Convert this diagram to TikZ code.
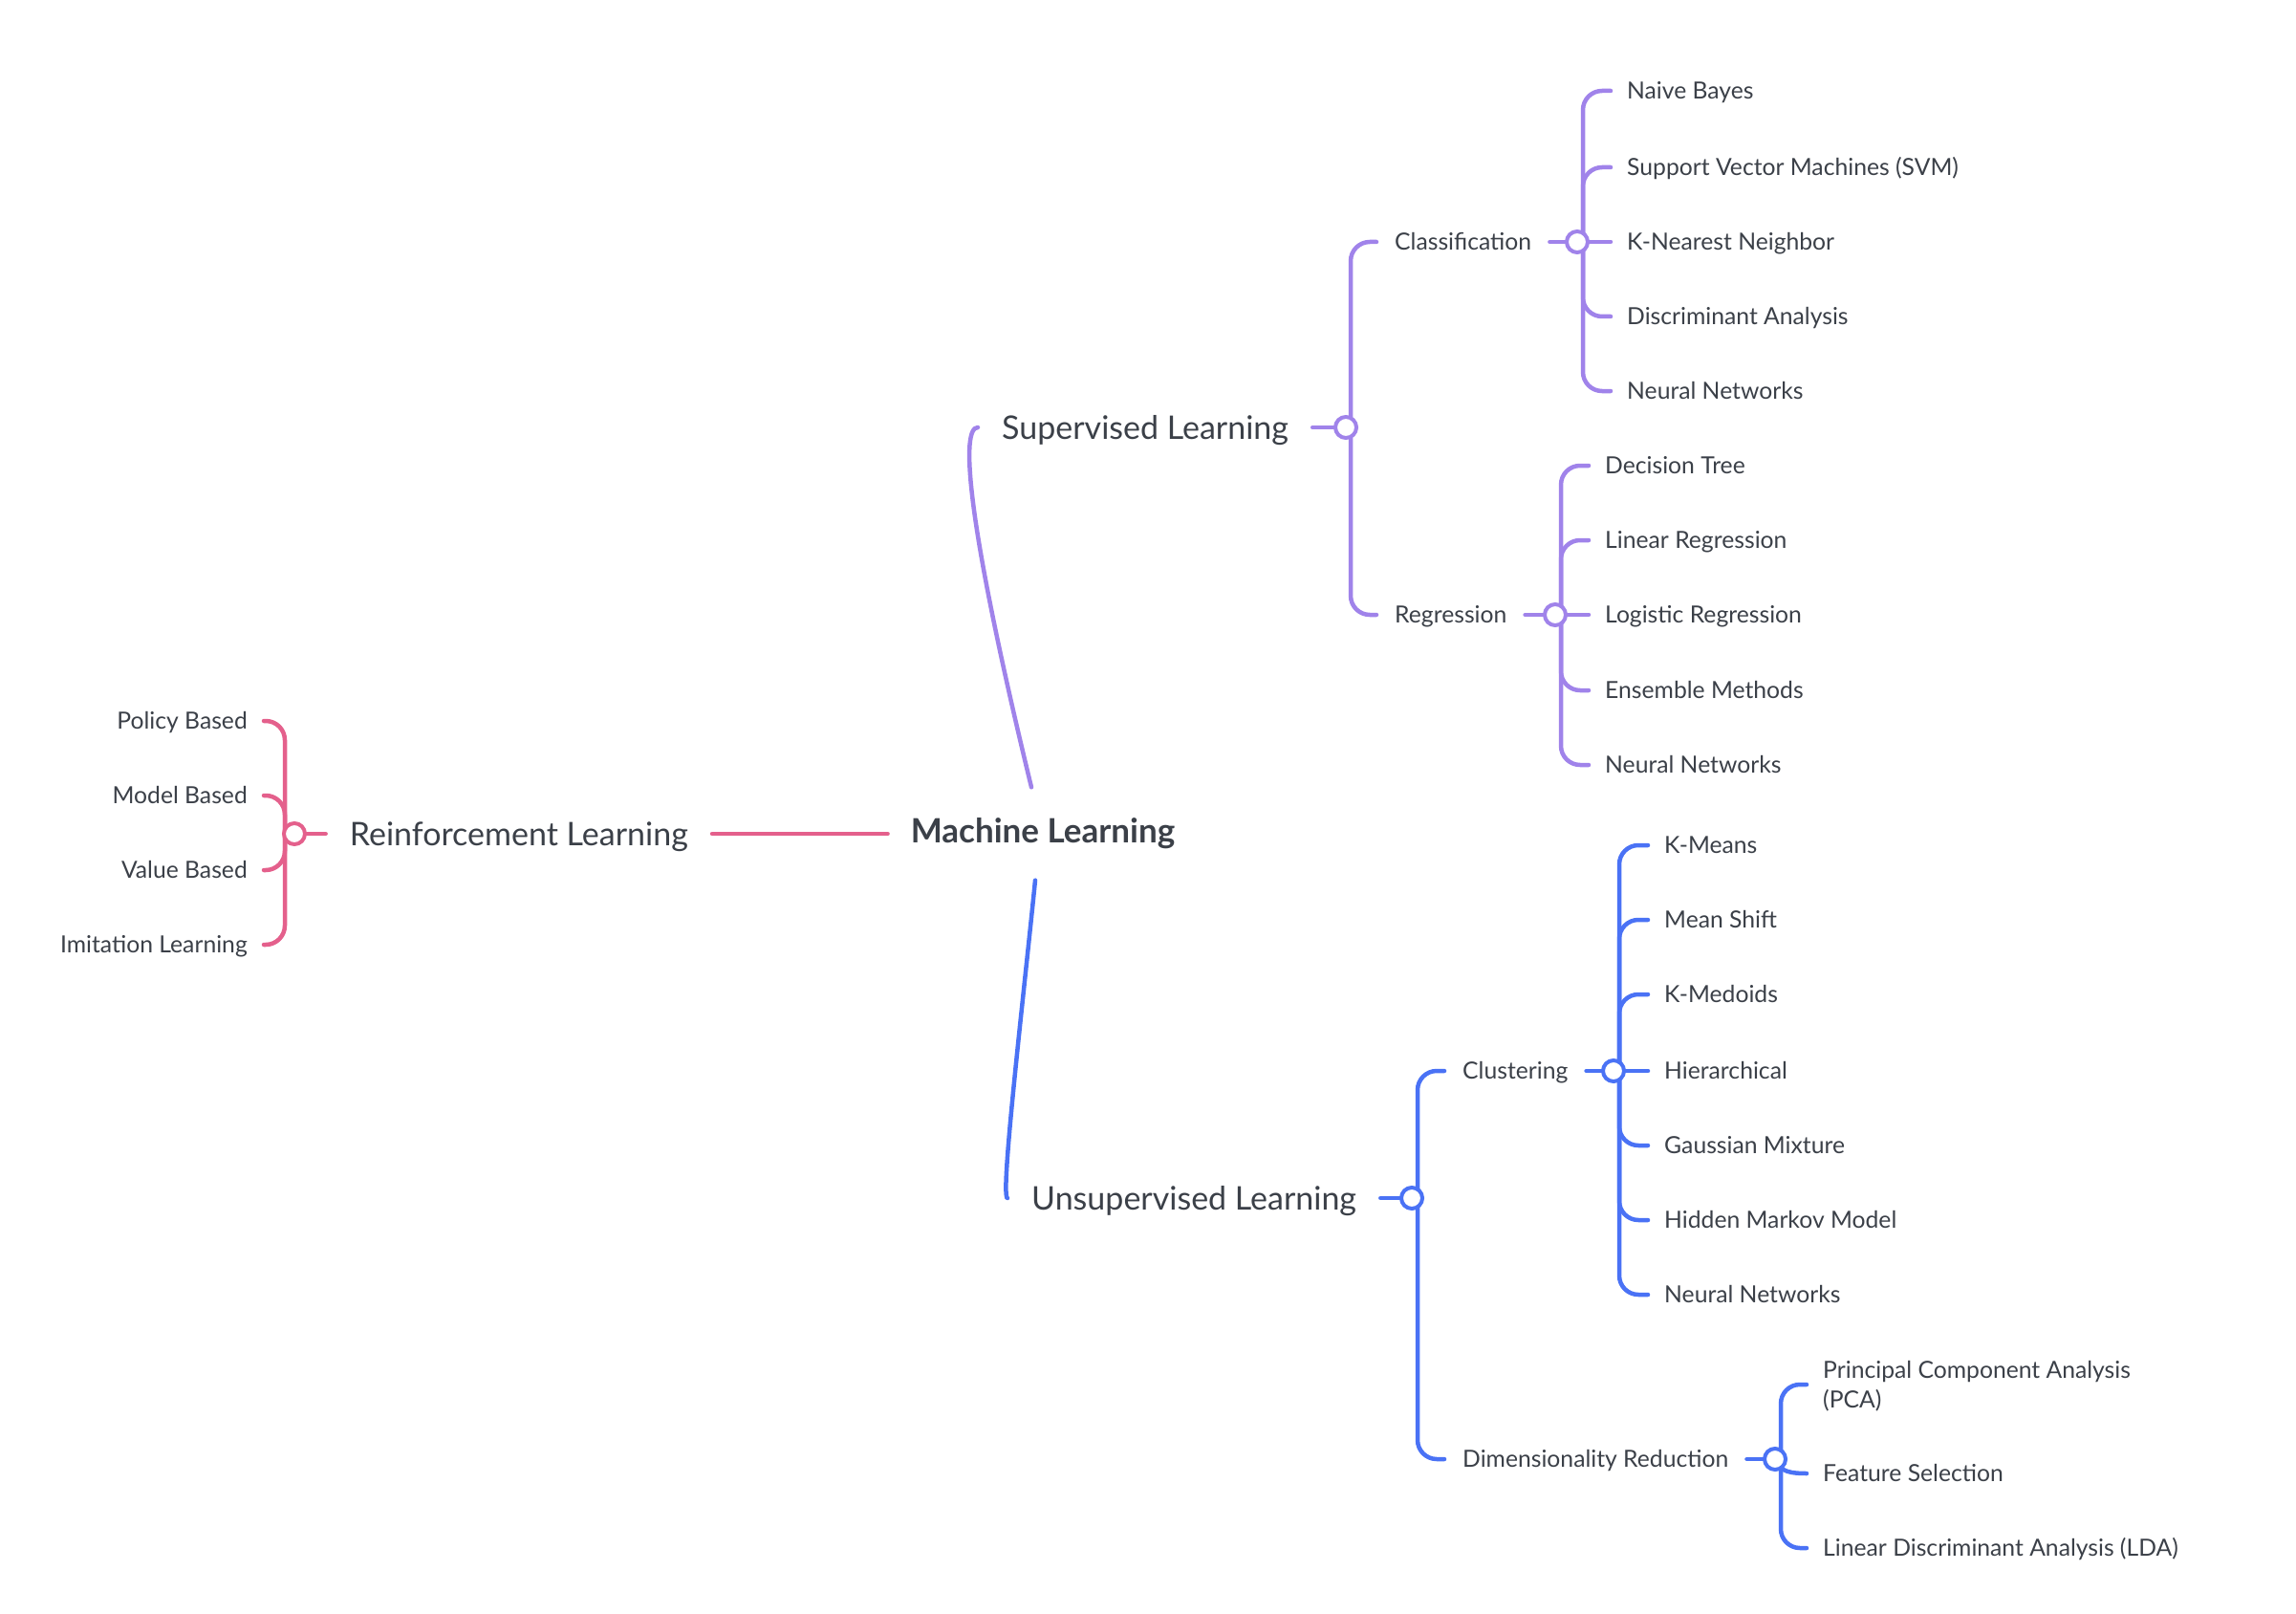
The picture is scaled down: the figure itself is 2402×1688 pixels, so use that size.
\documentclass[tikz,border=0pt]{standalone}
\usepackage{fontspec}
\setmainfont{Lato}
\usepackage{tikz}
\usetikzlibrary{backgrounds}
\usetikzlibrary{positioning}

\definecolor{suppurple}{HTML}{A083EA}
\definecolor{unsblue}{HTML}{4A72F5}
\definecolor{rlpink}{HTML}{E4608C}
\definecolor{inkgray}{HTML}{3B4048}

\tikzset{
  rootnode/.style={font=\fontsize{35}{42}\selectfont\bfseries, text=inkgray, inner xsep=24pt, minimum height=97pt},
  topic/.style={font=\fontsize{34}{41}\selectfont, text=inkgray, inner xsep=25pt, inner ysep=0pt, text height=24.4pt, text depth=0pt},
  subtopic/.style={font=\fontsize{24.7}{31}\selectfont, text=inkgray, inner xsep=19pt, inner ysep=0pt, text height=17.7pt, text depth=0pt},
  leaf/.style={subtopic, inner xsep=17pt},
  knot/.style={circle, draw, fill=white, line width=4pt, minimum size=22pt, inner sep=0pt},
  branch/.style={line width=4.5pt, line cap=round, rounded corners=20pt},
}

\begin{document}
\begin{tikzpicture}[x=1pt, y=-1pt]
\useasboundingbox (0,0) rectangle (2402,1688);

\node[rootnode] (ml) at (1091,872) {Machine Learning};

% reinforcement learning
\node[topic, anchor=east] (rl) at (745,872) {Reinforcement Learning};
\node[knot, draw=rlpink] (rlk) at (308,872) {};
\node[leaf, anchor=east] (pol) at (276,754) {Policy Based};
\node[leaf, anchor=east] (mod) at (276,832) {Model Based};
\node[leaf, anchor=east] (val) at (276,910) {Value Based};
\node[leaf, anchor=east] (imi) at (276,988) {Imitation Learning};

% supervised learning
\node[topic, anchor=west] (sup) at (1023,447) {Supervised Learning};
\node[knot, draw=suppurple] (supk) at (1408,447) {};
\node[subtopic, anchor=west] (cla) at (1440,253) {Classification};
\node[subtopic, anchor=west] (reg) at (1440,643) {Regression};
\node[knot, draw=suppurple] (clak) at (1650,253) {};
\node[leaf, anchor=west] (nb) at (1685,95) {Naive Bayes};
\node[leaf, anchor=west] (svm) at (1685,175) {Support Vector Machines (SVM)};
\node[leaf, anchor=west] (knn) at (1685,253) {K-Nearest Neighbor};
\node[leaf, anchor=west] (da) at (1685,331) {Discriminant Analysis};
\node[leaf, anchor=west] (nnc) at (1685,409) {Neural Networks};
\node[knot, draw=suppurple] (regk) at (1627,643) {};
\node[leaf, anchor=west] (dt) at (1662,487) {Decision Tree};
\node[leaf, anchor=west] (lin) at (1662,565) {Linear Regression};
\node[leaf, anchor=west] (log) at (1662,643) {Logistic Regression};
\node[leaf, anchor=west] (ens) at (1662,722) {Ensemble Methods};
\node[leaf, anchor=west] (nnr) at (1662,800) {Neural Networks};

% unsupervised learning
\node[topic, anchor=west] (uns) at (1054,1253) {Unsupervised Learning};
\node[knot, draw=unsblue] (unsk) at (1477,1253) {};
\node[subtopic, anchor=west] (clu) at (1511,1120) {Clustering};
\node[subtopic, anchor=west] (dim) at (1511,1526) {Dimensionality Reduction};
\node[knot, draw=unsblue] (cluk) at (1688,1120) {};
\node[leaf, anchor=west] (km) at (1724,884) {K-Means};
\node[leaf, anchor=west] (ms) at (1724,962) {Mean Shift};
\node[leaf, anchor=west] (kmed) at (1724,1040) {K-Medoids};
\node[leaf, anchor=west] (hie) at (1724,1120) {Hierarchical};
\node[leaf, anchor=west] (gm) at (1724,1198) {Gaussian Mixture};
\node[leaf, anchor=west] (hmm) at (1724,1276) {Hidden Markov Model};
\node[leaf, anchor=west] (nnu) at (1724,1354) {Neural Networks};
\node[knot, draw=unsblue] (dimk) at (1857,1526) {};
\node[leaf, anchor=west, align=left, text height=48.7pt, text depth=0pt] (pca) at (1890,1448) {Principal Component Analysis\\(PCA)};
\node[leaf, anchor=west] (fs) at (1890,1541) {Feature Selection};
\node[leaf, anchor=west] (lda) at (1890,1619) {Linear Discriminant Analysis (LDA)};

\begin{scope}[on background layer]
% root to topics
\draw[branch, rlpink] (ml.west) -- (rl.east);
\draw[branch, suppurple] ([xshift=-12pt]ml.north) .. controls (1010,540) and (1005,447) .. (sup.west);
\draw[branch, unsblue] ([xshift=-8pt]ml.south) .. controls (1070,1050) and (1046,1253) .. (uns.west);
% reinforcement
\draw[branch, rlpink] (rlk) -- (rl.west);
\draw[branch, rlpink] ([xshift=-10pt]rlk.center) |- (pol.east);
\draw[branch, rlpink] ([xshift=-10pt]rlk.center) |- (mod.east);
\draw[branch, rlpink] ([xshift=-10pt]rlk.center) |- (val.east);
\draw[branch, rlpink] ([xshift=-10pt]rlk.center) |- (imi.east);
% supervised
\draw[branch, suppurple] (sup.east) -- (supk);
\draw[branch, suppurple] ([xshift=5pt]supk.center) |- (cla.west);
\draw[branch, suppurple] ([xshift=5pt]supk.center) |- (reg.west);
\draw[branch, suppurple] (cla.east) -- (clak);
\draw[branch, suppurple] ([xshift=6pt]clak.center) |- (nb.west);
\draw[branch, suppurple] ([xshift=6pt]clak.center) |- (svm.west);
\draw[branch, suppurple] (clak) -- (knn.west);
\draw[branch, suppurple] ([xshift=6pt]clak.center) |- (da.west);
\draw[branch, suppurple] ([xshift=6pt]clak.center) |- (nnc.west);
\draw[branch, suppurple] (reg.east) -- (regk);
\draw[branch, suppurple] ([xshift=6pt]regk.center) |- (dt.west);
\draw[branch, suppurple] ([xshift=6pt]regk.center) |- (lin.west);
\draw[branch, suppurple] (regk) -- (log.west);
\draw[branch, suppurple] ([xshift=6pt]regk.center) |- (ens.west);
\draw[branch, suppurple] ([xshift=6pt]regk.center) |- (nnr.west);
% unsupervised
\draw[branch, unsblue] (uns.east) -- (unsk);
\draw[branch, unsblue] ([xshift=6pt]unsk.center) |- (clu.west);
\draw[branch, unsblue] ([xshift=6pt]unsk.center) |- (dim.west);
\draw[branch, unsblue] (clu.east) -- (cluk);
\draw[branch, unsblue] ([xshift=6pt]cluk.center) |- (km.west);
\draw[branch, unsblue] ([xshift=6pt]cluk.center) |- (ms.west);
\draw[branch, unsblue] ([xshift=6pt]cluk.center) |- (kmed.west);
\draw[branch, unsblue] (cluk) -- (hie.west);
\draw[branch, unsblue] ([xshift=6pt]cluk.center) |- (gm.west);
\draw[branch, unsblue] ([xshift=6pt]cluk.center) |- (hmm.west);
\draw[branch, unsblue] ([xshift=6pt]cluk.center) |- (nnu.west);
\draw[branch, unsblue] (dim.east) -- (dimk);
\draw[branch, unsblue] ([xshift=6pt]dimk.center) |- (pca.west);
\draw[branch, unsblue] (dimk.center) .. controls +(4,14) and +(-14,0) .. (fs.west);
\draw[branch, unsblue] ([xshift=6pt]dimk.center) |- (lda.west);
\end{scope}
\end{tikzpicture}
\end{document}
